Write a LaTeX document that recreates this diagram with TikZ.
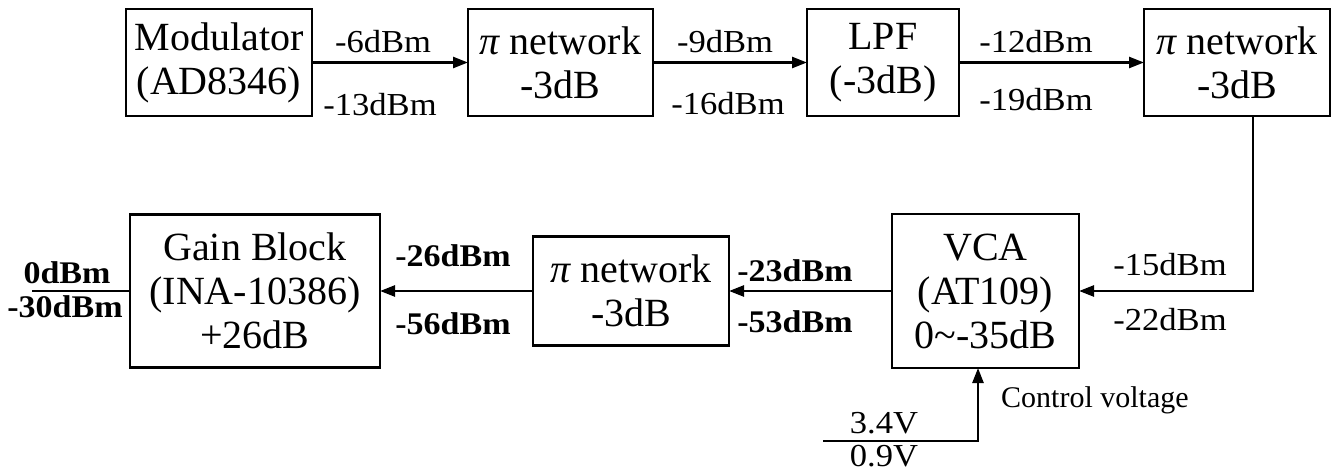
\documentclass[tikz,border=0pt]{standalone}
\usepackage{fontspec}
\setmainfont{Liberation Serif}
\newfontfamily\lblfont[FakeStretch=1.08]{Liberation Serif}
\usetikzlibrary{arrows.meta}
\begin{document}
\begin{tikzpicture}[x=1pt,y=-1pt,
  blk/.style={draw, line width=2.5pt, inner sep=0pt, outer sep=0pt, align=center, font=\fontsize{40}{44}\selectfont},
  lbl/.style={inner sep=0pt, anchor=base, font=\lblfont\fontsize{32}{36}\selectfont},
  blbl/.style={inner sep=0pt, anchor=base, font=\lblfont\bfseries\fontsize{31.5}{36}\selectfont},
  wire/.style={line width=2.5pt},
  arr/.style={wire, -{Triangle[length=15pt,width=11pt]}}]
\useasboundingbox (0,0) rectangle (1341,476);

\node[blk, minimum width=186pt, minimum height=107pt] (mod) at (219,62.5) {Modulator\\(AD8346)};
\node[blk, minimum width=185pt, minimum height=107pt] (pia) at (560.5,62.5) {{\itshape π} network\\-3dB};
\node[blk, minimum width=152pt, minimum height=107pt] (lpf) at (883,62.5) {LPF\\(-3dB)};
\node[blk, minimum width=186pt, minimum height=107pt] (pib) at (1237,62.5) {{\itshape π} network\\-3dB};
\node[blk, minimum width=250pt, minimum height=153pt] (gain) at (255,291) {Gain Block\\(INA-10386)\\+26dB};
\node[blk, minimum width=196pt, minimum height=109pt] (pic) at (631,291) {{\itshape π} network\\-3dB};
\node[blk, minimum width=187pt, minimum height=154pt] (vca) at (985.5,291) {VCA\\(AT109)\\0\textasciitilde-35dB};

\draw[arr] (mod) -- (pia);
\draw[arr] (pia) -- (lpf);
\draw[arr] (lpf) -- (pib);
\coordinate (corner) at (1253,291);
\draw[arr] (pib.south -| corner) -- (corner) -- (vca.east);
\draw[arr] (vca) -- (pic);
\draw[arr] (pic) -- (gain);
\coordinate (inend) at (32,291);
\draw[wire] (gain.west) -- (inend);
\coordinate (cvstart) at (823,441);
\coordinate (cvcorner) at (978,441);
\draw[arr] (cvstart) -- (cvcorner) -- (cvcorner |- vca.south);

\node[lbl] (l1a) at (383,53) {-6dBm};
\node[lbl] (l1b) at (380,116) {-13dBm};
\node[lbl] (l2a) at (725,53) {-9dBm};
\node[lbl] (l2b) at (728,115) {-16dBm};
\node[lbl] (l3a) at (1036,53) {-12dBm};
\node[lbl] (l3b) at (1036,111) {-19dBm};
\node[blbl] (l4a) at (453,266) {-26dBm};
\node[blbl] (l4b) at (453,334) {-56dBm};
\node[blbl] (l5a) at (795,281) {-23dBm};
\node[blbl] (l5b) at (795,332) {-53dBm};
\node[lbl] (l6a) at (1170,275) {-15dBm};
\node[lbl] (l6b) at (1170,330) {-22dBm};
\node[blbl] (in1) at (67,283) {0dBm};
\node[blbl] (in2) at (65,317) {-30dBm};
\node[lbl] (v1) at (884,433) {3.4V};
\node[lbl] (v2) at (884,466) {0.9V};
\node[anchor=base west, inner sep=0pt, font=\fontsize{30}{33}\selectfont] (cvl) at (1001,407) {Control voltage};
\end{tikzpicture}
\end{document}
